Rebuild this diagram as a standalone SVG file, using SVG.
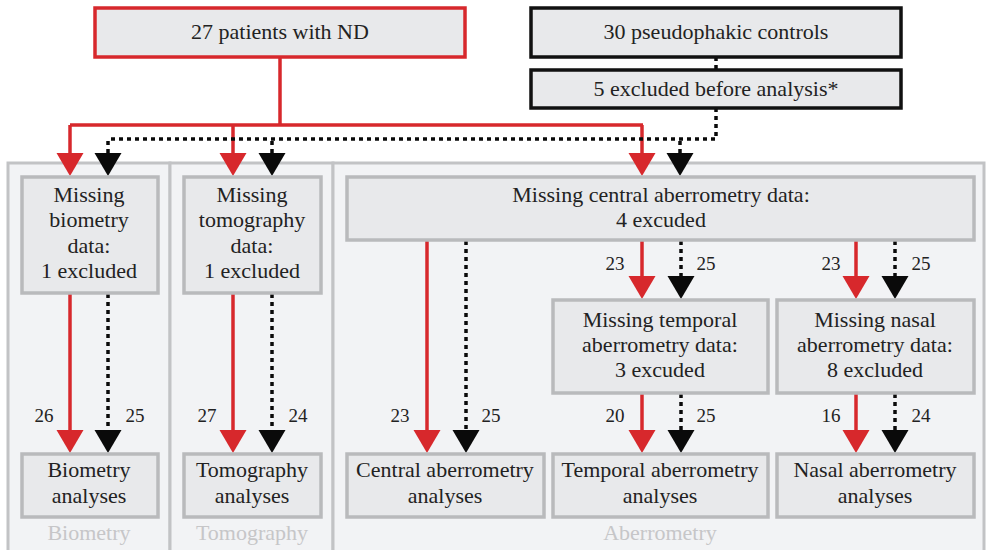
<svg xmlns="http://www.w3.org/2000/svg" width="986" height="550" viewBox="0 0 986 550">
<style>
text{font-family:'Liberation Serif','Times New Roman',serif;font-size:22px;fill:#222;text-anchor:middle}
.num{font-size:19px}
.plab{fill:#c6c6c8}
.panel{fill:#f2f3f5;stroke:#c2c3c5;stroke-width:3}
.box{fill:#e8e9eb;stroke:#b9babc;stroke-width:3.5}
.red{fill:none;stroke:#d7282c;stroke-width:3.5}
.dot{fill:none;stroke:#0a0a0a;stroke-width:3.5;stroke-dasharray:4 4}
</style>
<defs>
<marker id="ar" markerUnits="userSpaceOnUse" markerWidth="24" markerHeight="28" refX="0" refY="14" orient="auto" viewBox="0 0 24 28"><path d="M0,0.5 L23,14 L0,27.5 Z" fill="#d7282c"/></marker>
<marker id="ab" markerUnits="userSpaceOnUse" markerWidth="24" markerHeight="28" refX="0" refY="14" orient="auto" viewBox="0 0 24 28"><path d="M0,0.5 L23,14 L0,27.5 Z" fill="#0a0a0a"/></marker>
</defs>
<g id="panels">
<rect class="panel" x="8" y="163" width="162" height="392"/>
<rect class="panel" x="170" y="163" width="163" height="392"/>
<rect class="panel" x="333" y="163" width="651" height="392"/>
<text class="plab" x="89" y="540">Biometry</text>
<text class="plab" x="252" y="540">Tomography</text>
<text class="plab" x="660" y="540">Aberrometry</text>
</g>
<g id="connectors">
<path class="red" d="M280,57 V125 M70,125 H643"/>
<path class="red" d="M70,125 V153" marker-end="url(#ar)"/>
<path class="red" d="M233,125 V153" marker-end="url(#ar)"/>
<path class="red" d="M642,125 V153" marker-end="url(#ar)"/>
<path class="dot" d="M716,57 V70"/>
<path class="dot" d="M716,108 V139 H108"/>
<path class="dot" d="M108,141 V153" marker-end="url(#ab)"/>
<path class="dot" d="M272,141 V153" marker-end="url(#ab)"/>
<path class="dot" d="M680,141 V153" marker-end="url(#ab)"/>
<path class="red" d="M70,293 V430" marker-end="url(#ar)"/>
<path class="dot" d="M108,294 V430" marker-end="url(#ab)"/>
<path class="red" d="M233,293 V430" marker-end="url(#ar)"/>
<path class="dot" d="M272,294 V430" marker-end="url(#ab)"/>
<path class="red" d="M427,240 V430" marker-end="url(#ar)"/>
<path class="dot" d="M466,241 V430" marker-end="url(#ab)"/>
<path class="red" d="M642,240 V276" marker-end="url(#ar)"/>
<path class="dot" d="M681,241 V276" marker-end="url(#ab)"/>
<path class="red" d="M856,240 V276" marker-end="url(#ar)"/>
<path class="dot" d="M895,241 V276" marker-end="url(#ab)"/>
<path class="red" d="M642,393 V430" marker-end="url(#ar)"/>
<path class="dot" d="M681,394 V430" marker-end="url(#ab)"/>
<path class="red" d="M856,393 V430" marker-end="url(#ar)"/>
<path class="dot" d="M895,394 V430" marker-end="url(#ab)"/>
<text class="num" x="44" y="422">26</text>
<text class="num" x="135" y="422">25</text>
<text class="num" x="207" y="422">27</text>
<text class="num" x="298" y="422">24</text>
<text class="num" x="400" y="422">23</text>
<text class="num" x="491" y="422">25</text>
<text class="num" x="615" y="270">23</text>
<text class="num" x="706" y="270">25</text>
<text class="num" x="831" y="270">23</text>
<text class="num" x="921" y="270">25</text>
<text class="num" x="615" y="422">20</text>
<text class="num" x="706" y="422">25</text>
<text class="num" x="831" y="422">16</text>
<text class="num" x="921" y="422">24</text>
</g>
<g id="nd">
<rect x="95" y="8" width="370" height="49" fill="#e8e9eb" stroke="#d7282c" stroke-width="3.5"/>
<text x="280" y="39">27 patients with ND</text>
</g>
<g id="controls">
<rect x="531" y="8" width="370" height="49" fill="#e8e9eb" stroke="#111" stroke-width="3.5"/>
<text x="716" y="39">30 pseudophakic controls</text>
</g>
<g id="excluded">
<rect x="531" y="70" width="370" height="38" fill="#e8e9eb" stroke="#111" stroke-width="3.5"/>
<text x="716" y="96">5 excluded before analysis*</text>
</g>
<g id="miss-bio">
<rect class="box" x="22" y="177" width="136" height="116"/>
<text x="89" y="202">Missing</text>
<text x="89" y="227">biometry</text>
<text x="89" y="253">data:</text>
<text x="89" y="278">1 excluded</text>
</g>
<g id="miss-tomo">
<rect class="box" x="184" y="177" width="137" height="116"/>
<text x="252" y="202">Missing</text>
<text x="252" y="227">tomography</text>
<text x="252" y="253">data:</text>
<text x="252" y="278">1 excluded</text>
</g>
<g id="miss-central">
<rect class="box" x="347" y="177" width="627" height="63"/>
<text x="661" y="202">Missing central aberrometry data:</text>
<text x="661" y="227">4 excuded</text>
</g>
<g id="miss-temporal">
<rect class="box" x="553" y="300" width="215" height="93"/>
<text x="660" y="327">Missing temporal</text>
<text x="660" y="352">aberrometry data:</text>
<text x="660" y="377">3 excuded</text>
</g>
<g id="miss-nasal">
<rect class="box" x="777" y="300" width="197" height="93"/>
<text x="875" y="327">Missing nasal</text>
<text x="875" y="352">aberrometry data:</text>
<text x="875" y="377">8 excluded</text>
</g>
<g id="bio-an">
<rect class="box" x="22" y="454" width="136" height="63"/>
<text x="89" y="477">Biometry</text>
<text x="89" y="503">analyses</text>
</g>
<g id="tomo-an">
<rect class="box" x="184" y="454" width="137" height="63"/>
<text x="252" y="477">Tomography</text>
<text x="252" y="503">analyses</text>
</g>
<g id="central-an">
<rect class="box" x="347" y="454" width="197" height="63"/>
<text x="445" y="477">Central aberrometry</text>
<text x="445" y="503">analyses</text>
</g>
<g id="temporal-an">
<rect class="box" x="553" y="454" width="215" height="63"/>
<text x="660" y="477">Temporal aberrometry</text>
<text x="660" y="503">analyses</text>
</g>
<g id="nasal-an">
<rect class="box" x="777" y="454" width="197" height="63"/>
<text x="875" y="477">Nasal aberrometry</text>
<text x="875" y="503">analyses</text>
</g>
</svg>
